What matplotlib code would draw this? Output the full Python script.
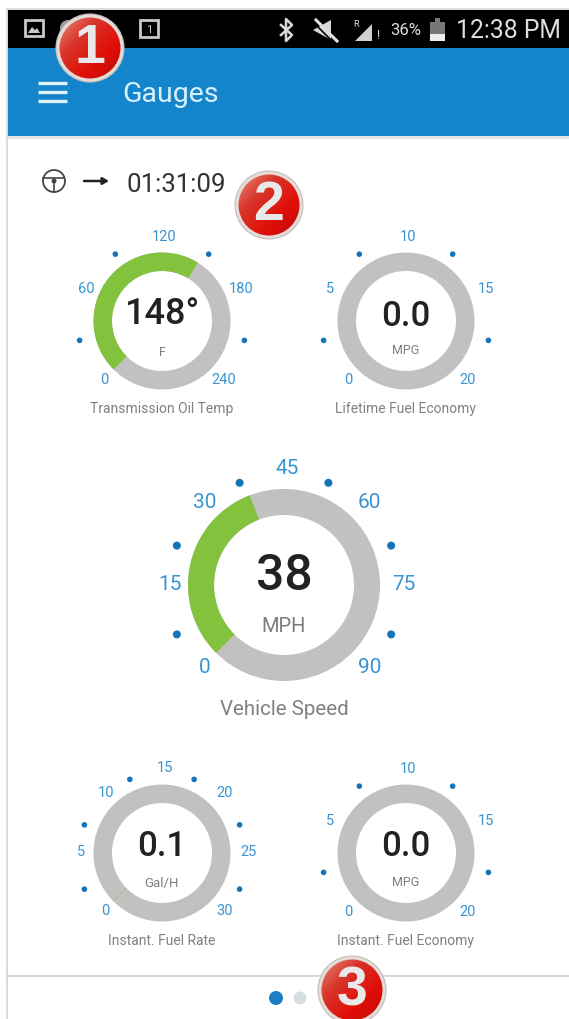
import numpy as np
import matplotlib
matplotlib.use("Agg")
import matplotlib.pyplot as plt
from matplotlib.patches import Wedge, Circle, Rectangle, Polygon
from matplotlib.colors import LinearSegmentedColormap

plt.rcParams['font.family'] = ['Roboto', 'DejaVu Sans']

# ---- data ----
titles = ["Transmission Oil Temp", "Lifetime Fuel Economy", "Vehicle Speed",
          "Instant. Fuel Rate", "Instant. Fuel Economy"]
units = ["F", "MPG", "MPH", "Gal/H", "MPG"]
readouts = ["148°", "0.0", "38", "0.1", "0.0"]
values = [148, 0.0, 38, 0.1, 0.0]
tick_labels = [
    [0, 60, 120, 180, 240],
    [0, 5, 10, 15, 20],
    [0, 15, 30, 45, 60, 75, 90],
    [0, 5, 10, 15, 20, 25, 30],
    [0, 5, 10, 15, 20],
]
header_title = "Gauges"
trip_time = "01:31:09"
clock = "12:38 PM"
battery = "36%"
badges = ["1", "2", "3"]

# ---- layout ----
centers = [(162, 321), (406, 321), (284, 585), (162, 853), (406, 853)]
ring = [(68.5, 50), (68.5, 50), (96, 70), (68.5, 50), (68.5, 50)]
label_geom = [(2, 0, 84), (2, 0, 84), (3, 0, 117), (3, -1, 84), (2, 0, 84)]
dot_geom = [(0, 3, 84), (0, 3, 84), (0, 5, 116), (0, 4, 84), (0, 3, 84)]
value_dy = [-6, -5, -9, -6, -6]
unit_dy = [31, 30, 42, 30, 29]
title_baseline_dy = [92, 92, 130, 92, 92]
value_fs = [26, 25, 36, 25, 25]
unit_fs = [9, 9, 14.5, 9.5, 9]
title_fs = [10, 10, 14.8, 10, 10]
tick_fs = [10.5, 10.5, 15, 10.5, 10.5]
dot_r = [2.8, 2.8, 4, 2.8, 2.8]

BLUE = "#1585cb"
TICK = "#3a94d2"
DOT = "#1474b8"
GREY = "#c1c1c1"
GREEN = "#82c23c"
SWEEP = 270.0
START = 135.0  # lower-left, y axis points down so angles run clockwise

fig = plt.figure(figsize=(5.69, 10.19), dpi=100, facecolor="white")
ax = fig.add_axes([0, 0, 1, 1])
ax.set_axis_off()


def polar(cx, cy, r, deg):
    return cx + r * np.cos(np.radians(deg)), cy + r * np.sin(np.radians(deg))


# ---- page chrome ----
ax.add_patch(Rectangle((0, 0), 569, 1019, fc="white", ec="none", zorder=0))
ax.plot([7, 7], [9, 1019], color="#d6d6d6", lw=1.2, zorder=1)
ax.plot([7, 569], [9, 9], color="#d6d6d6", lw=1.2, zorder=1)
ax.add_patch(Rectangle((8, 10), 561, 39, fc="black", ec="none", zorder=2))
ax.add_patch(Rectangle((8, 48), 561, 88, fc=BLUE, ec="none", zorder=2))
ax.plot([8, 569], [137, 137], color="#e2e2e2", lw=2, zorder=2)
ax.plot([8, 569], [976, 976], color="#d8d8d8", lw=1.5, zorder=2)

# status bar icons
ax.add_patch(Rectangle((25, 20), 18, 16, fc="none", ec="#c8c8c8", lw=2, zorder=3))
ax.add_patch(Polygon([(28, 33), (32, 27), (35, 30), (37, 28), (40, 33)], fc="#c8c8c8", zorder=3))
ax.add_patch(Circle((68, 28), 8, fc="#9a9a9a", ec="none", zorder=3))
ax.add_patch(Rectangle((140, 20), 18, 17, fc="none", ec="#c8c8c8", lw=2, zorder=3))
ax.text(149, 30, "1", color="#c8c8c8", fontsize=8, ha="center", va="center", zorder=4)
ax.plot([281, 292, 286, 286, 292, 281], [25, 35, 41, 19, 25, 35], color="#d8d8d8", lw=1.8, zorder=3)
ax.add_patch(Polygon([(313, 30), (331, 20), (331, 40)], fc="#d8d8d8", zorder=3))
ax.plot([316, 337], [20, 41], color="#e0e0e0", lw=2.2, zorder=4)
ax.plot([313, 334], [22, 43], color="black", lw=1.2, zorder=3.5)
ax.add_patch(Polygon([(355, 41), (372, 24), (372, 41)], fc="#d0d0d0", zorder=3))
ax.text(356, 24, "R", color="#e0e0e0", fontsize=6.5, ha="center", va="center", zorder=4)
ax.text(378, 35, "!", color="#d0d0d0", fontsize=9, ha="center", va="center", zorder=4)
ax.text(406, 30.5, battery, color="#dedede", fontsize=12, ha="center", va="center", zorder=4)
ax.add_patch(Rectangle((430, 22), 15, 19, fc="#777777", ec="none", zorder=3))
ax.add_patch(Rectangle((435, 18), 5, 4, fc="#777777", ec="none", zorder=3))
ax.add_patch(Rectangle((430, 34), 15, 7, fc="#eeeeee", ec="none", zorder=3))
ax.text(508.5, 30.5, clock, color="#dedede", fontsize=17.8, ha="center", va="center", zorder=4)

# header
for y in (83, 92, 101):
    ax.plot([38, 67], [y, y], color="#dff3fb", lw=2.4, solid_capstyle="butt", zorder=3)
ax.text(122, 94, header_title, color="#d6f1fb", fontsize=20.5, ha="left", va="center", zorder=3)

# trip timer
ax.add_patch(Circle((54, 181), 11, fc="none", ec="#444444", lw=1.3, zorder=3))
ax.plot([43.5, 64.5], [178, 178], color="#444444", lw=1.2, zorder=3)
ax.plot([54, 54], [181, 192], color="#444444", lw=1.2, zorder=3)
ax.add_patch(Circle((54, 181), 2.5, fc="#444444", ec="none", zorder=3))
ax.annotate("", xy=(109, 181), xytext=(84, 181),
            arrowprops=dict(arrowstyle="-|>,head_width=0.2,head_length=0.35", color="#222222", lw=1.8,
                            shrinkA=0, shrinkB=0), zorder=3)
ax.text(127, 184.5, trip_time, color="#333333", fontsize=18.6, ha="left", va="center", zorder=3)

# ---- gauges ----
for i in range(len(titles)):
    cx, cy = centers[i]
    ro, ri = ring[i]
    ticks = tick_labels[i]
    vmax = ticks[-1]
    end = START + SWEEP * values[i] / vmax
    ax.add_patch(Wedge((cx, cy), ro, 0, 360, width=ro - ri, fc=GREY, ec="none", zorder=3))
    if values[i] > 0:
        ax.add_patch(Wedge((cx, cy), ro, START, end, width=ro - ri, fc=GREEN, ec="none",
                           alpha=1.0 if values[i] / vmax > 0.02 else 0.45, zorder=4))
    ldx, ldy, lr = label_geom[i]
    ddx, ddy, dr = dot_geom[i]
    n = len(ticks) - 1
    for k, t in enumerate(ticks):
        x, y = polar(cx + ldx, cy + ldy, lr, START + SWEEP * k / n)
        ax.text(x, y, str(t), color=TICK, fontsize=tick_fs[i], ha="center", va="center", zorder=5)
    for k in range(n):
        x, y = polar(cx + ddx, cy + ddy, dr, START + SWEEP * (k + 0.5) / n)
        ax.add_patch(Circle((x, y), dot_r[i], fc=DOT, ec="none", zorder=5))
    ax.text(cx, cy + value_dy[i], readouts[i], color="#222222", fontsize=value_fs[i],
            fontweight="medium", ha="center", va="center", zorder=5)
    ax.text(cx, cy + unit_dy[i], units[i], color="#7d7d7d", fontsize=unit_fs[i],
            ha="center", va="center", zorder=5)
    ax.text(cx, cy + title_baseline_dy[i], titles[i], color="#808080", fontsize=title_fs[i],
            ha="center", va="baseline", zorder=5)

# page dots
ax.add_patch(Circle((276, 998), 7, fc="#1a7fc4", ec="none", zorder=3))
ax.add_patch(Circle((300, 998), 6.5, fc="#d5dde0", ec="none", zorder=3))

# ---- callout badges ----
badge_pos = [(90, 48), (269, 205), (352, 990)]
badge_cmap = LinearSegmentedColormap.from_list("b", ["#e88a78", "#d8342a", "#e00f08", "#c00a06"])
grad = np.linspace(0, 1, 64)[:, None] * 0.5 + np.linspace(0, 1, 64)[None, :] * 0.5
for (bx, by), label in zip(badge_pos, badges):
    ax.add_patch(Circle((bx, by), 34, fc="#e4dcd8", ec="#c9bdb8", lw=0.8, zorder=8))
    disc = Circle((bx, by), 30.5, transform=ax.transData)
    im = ax.imshow(grad, cmap=badge_cmap, extent=(bx - 31, bx + 31, by + 31, by - 31),
                   zorder=9, aspect="auto")
    im.set_clip_path(disc)
    ax.text(bx, by + 1, label, color="#e9e9e9", fontsize=40, fontweight="bold",
            family=["Liberation Sans", "DejaVu Sans"], ha="center", va="center", zorder=10)

ax.set_xlim(0, 569)
ax.set_ylim(1019, 0)
fig.savefig("out.png", dpi=100)
